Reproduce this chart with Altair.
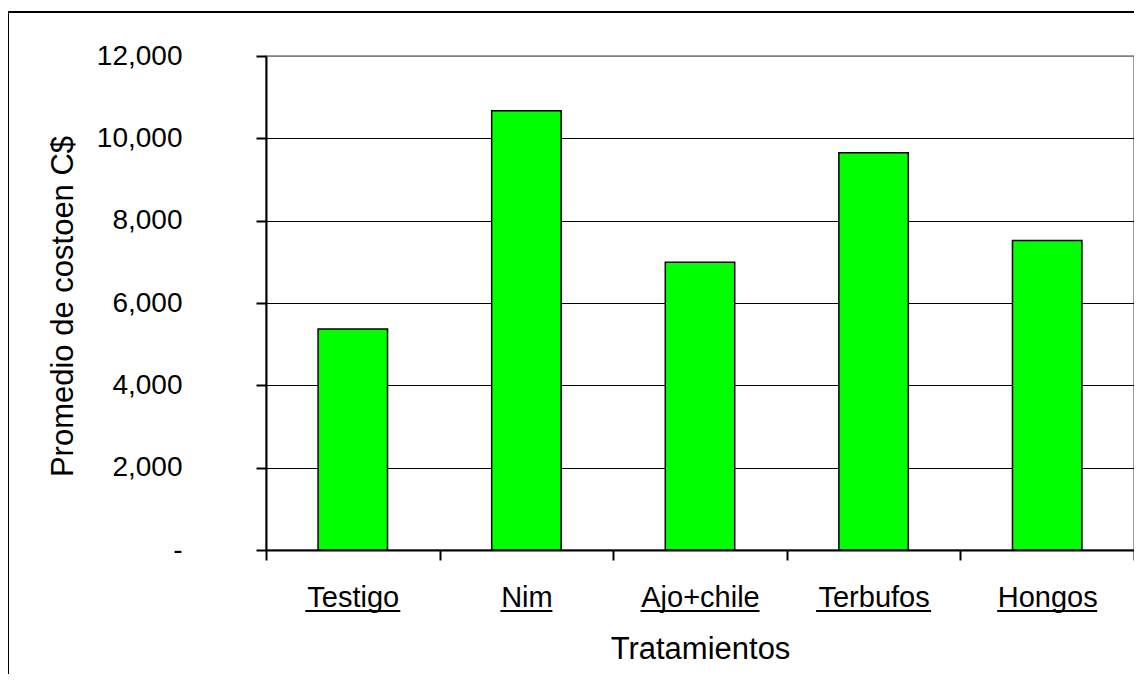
import altair as alt
import pandas as pd

# ---- data ----
tratamientos = ["Testigo", "Nim", "Ajo+chile", "Terbufos", "Hongos"]
costo = [5370, 10670, 6990, 9650, 7520]
y_ticks = [0, 2000, 4000, 6000, 8000, 10000, 12000]

# ---- styling (underline lengths of the x labels, px) ----
underline_px = [95, 52, 119, 115, 100]

df = pd.DataFrame({"Tratamiento": tratamientos, "Costo": costo, "ul": underline_px})

W, H = 868, 494
FONT = "Liberation Sans"

x_enc = alt.X(
    "Tratamiento:N",
    sort=tratamientos,
    scale=alt.Scale(paddingInner=0, paddingOuter=0),
    axis=alt.Axis(
        title="Tratamientos",
        labelAngle=0,
        labelFont=FONT,
        labelFontSize=29,
        labelColor="black",
        labelBaseline="alphabetic",
        labelPadding=46,
        tickBand="extent",
        tickSize=10,
        tickWidth=2,
        tickColor="black",
        domainColor="black",
        domainWidth=2,
        titleFont=FONT,
        titleFontSize=31,
        titleFontWeight="normal",
        titleColor="black",
        titleBaseline="alphabetic",
        titleAlign="center",
        titleX=W / 2,
        titleY=108,
    ),
)

y_enc = alt.Y(
    "Costo:Q",
    scale=alt.Scale(domain=[0, 12000], nice=False),
    axis=alt.Axis(
        values=y_ticks,
        labelExpr="datum.value == 0 ? '-' : format(datum.value, ',')",
        title="Promedio de costoen C$",
        labelFont=FONT,
        labelFontSize=28,
        labelColor="black",
        labelPadding=74,
        tickSize=10,
        tickWidth=2,
        tickColor="black",
        domainColor="black",
        domainWidth=2,
        grid=True,
        gridColor=alt.condition("datum.value == 12000", alt.value("#808080"), alt.value("black")),
        gridWidth=1,
        titleFont=FONT,
        titleFontSize=31,
        titleFontWeight="normal",
        titleColor="black",
        titleAngle=-90,
        titleBaseline="alphabetic",
        titleAlign="center",
        titleX=-194,
        titleY=H / 2 + 3,
    ),
)

bars = alt.Chart(df).mark_bar(
    color="#00ff00", stroke="black", strokeWidth=1.5, width=alt.RelativeBandSize(0.4)
).encode(x=x_enc, y=y_enc)

underline = alt.Chart(df).mark_bar(color="black").encode(
    x=x_enc,
    y=alt.value(H + 60),
    y2=alt.value(H + 62),
    size=alt.Size("ul:Q", scale=None, legend=None),
)

frame = alt.Chart(pd.DataFrame({"f": [0]})).mark_rect(
    fillOpacity=0, stroke="black", strokeWidth=2
).encode(
    x=alt.value(-258), x2=alt.value(W + 60), y=alt.value(-44), y2=alt.value(H + 220)
)

chart = alt.layer(bars, underline, frame).properties(
    width=W,
    height=H,
    autosize="none",
    padding={"left": 258, "top": 48, "right": 0, "bottom": 124},
    background="white",
).configure_view(stroke="#808080", strokeWidth=1.5)

chart.save("out.html", embed_options={"renderer": "svg", "actions": False})
